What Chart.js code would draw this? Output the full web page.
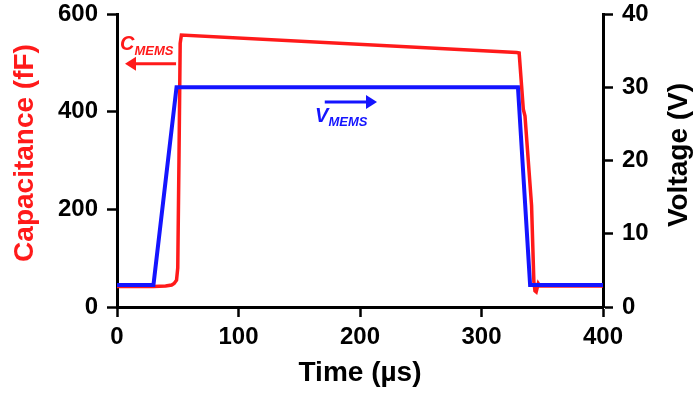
<!DOCTYPE html>
<html>
  <head>
    <title>Capacitance and voltage vs time</title>
    <script src="https://cdn.jsdelivr.net/npm/chart.js"></script>
    <style>
      body { margin: 0; background: #fff; }
    </style>
  </head>
  <body>
    <canvas id="chart" width="697" height="394"></canvas>
    <script>
      // capacitance trace (time in us, fF)
      const capTime = [0, 30, 40, 45, 47, 49, 50, 51, 52, 53, 329, 331, 334.4, 335.8, 341.2, 343.1, 344, 345, 346.7, 348, 400];
      const capValue = [42, 42, 43, 45, 48, 55, 80, 300, 540, 557, 521, 520, 405, 391, 208, 52, 33, 31, 48, 43, 43];

      // voltage trace (time in us, V)
      const voltTime = [0, 30, 49, 330, 340, 400];
      const voltValue = [3, 3, 30, 30, 3, 3];

      const xTicks = [0, 100, 200, 300, 400];
      const capTicks = [0, 200, 400, 600];
      const voltTicks = [0, 10, 20, 30, 40];

      const RED = "#ff1a1a";
      const BLUE = "#1414ff";
      const FONT = "'Liberation Sans', Arial, sans-serif";

      const toPoints = (xs, ys) => xs.map((x, i) => ({ x: x, y: ys[i] }));

      // text labels with arrows, anchored in data units
      const annotations = [
        { main: "C", sub: "MEMS", color: RED, axis: "y", x: 2.5, y: 527, subY: 516, arrowY: 498, from: 48.6, to: 6.6 },
        { main: "V", sub: "MEMS", color: BLUE, axis: "y1", x: 163, y: 25.2, subY: 24.7, arrowY: 28.0, from: 171, to: 214 },
      ];

      // rotated y axis titles (both read bottom to top)
      const yTitles = [
        { text: "Capacitance (fF)", color: RED, x: 25, y: 153 },
        { text: "Voltage (V)", color: "#000", x: 679, y: 155 },
      ];

      const annotationPlugin = {
        id: "labels",
        afterDatasetsDraw(chart) {
          const ctx = chart.ctx;
          const xs = chart.scales.x;
          ctx.save();
          annotations.forEach((a) => {
            const ys = chart.scales[a.axis];
            const px = xs.getPixelForValue(a.x);
            ctx.fillStyle = a.color;
            ctx.strokeStyle = a.color;
            ctx.textBaseline = "alphabetic";
            ctx.textAlign = "left";
            ctx.font = "italic bold 20px " + FONT;
            ctx.fillText(a.main, px, ys.getPixelForValue(a.y));
            const w = ctx.measureText(a.main).width;
            ctx.font = "italic bold 13px " + FONT;
            ctx.fillText(a.sub, px + w, ys.getPixelForValue(a.subY));

            const ay = ys.getPixelForValue(a.arrowY);
            const x1 = xs.getPixelForValue(a.from);
            const x2 = xs.getPixelForValue(a.to);
            const dir = x2 > x1 ? 1 : -1;
            ctx.lineWidth = 3;
            ctx.beginPath();
            ctx.moveTo(x1, ay);
            ctx.lineTo(x2 - dir * 8, ay);
            ctx.stroke();
            ctx.beginPath();
            ctx.moveTo(x2, ay);
            ctx.lineTo(x2 - dir * 11, ay - 7);
            ctx.lineTo(x2 - dir * 11, ay + 7);
            ctx.closePath();
            ctx.fill();
          });

          ctx.font = "bold 28px " + FONT;
          ctx.textAlign = "center";
          ctx.textBaseline = "middle";
          yTitles.forEach((t) => {
            ctx.save();
            ctx.translate(t.x, t.y);
            ctx.rotate(-Math.PI / 2);
            ctx.fillStyle = t.color;
            ctx.fillText(t.text, 0, 0);
            ctx.restore();
          });
          ctx.restore();
        },
      };

      const tickFont = { family: FONT, size: 24, weight: "bold" };
      const titleFont = { family: FONT, size: 28, weight: "bold" };

      const axisCommon = (ticks) => ({
        type: "linear",
        min: ticks[0],
        max: ticks[ticks.length - 1],
        afterBuildTicks: (scale) => {
          scale.ticks = ticks.map((v) => ({ value: v }));
        },
        grid: {
          drawOnChartArea: false,
          drawTicks: true,
          tickLength: 10,
          tickWidth: 2.5,
          color: "#000",
        },
        border: { display: true, color: "#000", width: 3 },
        ticks: { font: tickFont, color: "#000", padding: 9 },
      });

      const ctx = document.getElementById("chart").getContext("2d");
      new Chart(ctx, {
        type: "line",
        data: {
          datasets: [
            {
              label: "V_MEMS",
              data: toPoints(voltTime, voltValue),
              yAxisID: "y1",
              borderColor: BLUE,
              borderWidth: 4,
              pointRadius: 0,
              fill: false,
              tension: 0,
              order: 0,
            },
            {
              label: "C_MEMS",
              data: toPoints(capTime, capValue),
              yAxisID: "y",
              borderColor: RED,
              borderWidth: 3.5,
              pointRadius: 0,
              fill: false,
              tension: 0,
              order: 1,
            },
          ],
        },
        options: {
          responsive: false,
          animation: false,
          layout: { padding: { top: 14, right: 0, left: 0, bottom: 0 } },
          plugins: {
            legend: { display: false },
            tooltip: { enabled: false },
          },
          scales: {
            x: Object.assign(axisCommon(xTicks), {
              ticks: { font: tickFont, color: "#000", padding: 6 },
              title: { display: true, text: "Time (µs)", font: titleFont, color: "#000", padding: { top: 0, bottom: 4 } },
              afterFit: (scale) => {
                scale.height = 87;
                scale.paddingLeft = 0;
                scale.paddingRight = 0;
              },
            }),
            y: Object.assign(axisCommon(capTicks), {
              position: "left",
              afterFit: (scale) => {
                scale.width = 117;
                scale.paddingTop = 0;
                scale.paddingBottom = 0;
              },
            }),
            y1: Object.assign(axisCommon(voltTicks), {
              position: "right",
              afterFit: (scale) => {
                scale.width = 94;
                scale.paddingTop = 0;
                scale.paddingBottom = 0;
              },
            }),
          },
        },
        plugins: [annotationPlugin],
      });
    </script>
  </body>
</html>
